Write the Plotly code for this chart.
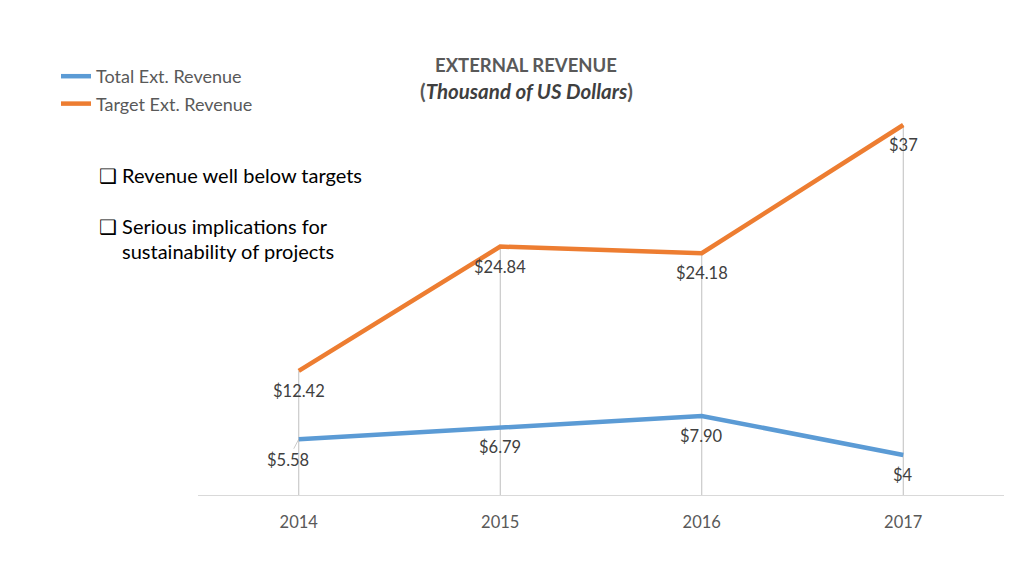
import plotly.graph_objects as go

# -------------------------------------------------------------------
# DATA
# -------------------------------------------------------------------
years = ["2014", "2015", "2016", "2017"]
total_rev = [5.58, 6.79, 7.90, 4]
target_rev = [12.42, 24.84, 24.18, 37]
total_labels = ["$5.58", "$6.79", "$7.90", "$4"]
target_labels = ["$12.42", "$24.84", "$24.18", "$37"]

BLUE = "#5B9BD5"
ORANGE = "#ED7D31"
GREY_TXT = "#595959"
LABEL_TXT = "#404040"
FONT = "Lato, Carlito, Calibri, sans-serif"

fig = go.Figure()

# vertical drop lines from the top point of each year down to the axis
drop_x, drop_y = [], []
for yr, a, b in zip(years, total_rev, target_rev):
    drop_x += [yr, yr, None]
    drop_y += [0, max(a, b), None]
fig.add_trace(go.Scatter(
    x=drop_x, y=drop_y, mode="lines",
    line=dict(color="#BFBFBF", width=1),
    hoverinfo="skip", showlegend=False))

fig.add_trace(go.Scatter(
    x=years, y=total_rev, mode="lines", name="Total Ext. Revenue",
    line=dict(color=BLUE, width=4.5), legendgroup="a"))

fig.add_trace(go.Scatter(
    x=years, y=target_rev, mode="lines", name="Target Ext. Revenue",
    line=dict(color=ORANGE, width=4.5), legendgroup="b"))

# data labels below each point
label_font = dict(family=FONT, size=16.5, color=LABEL_TXT)
for i, (v, lab) in enumerate(zip(target_rev, target_labels)):
    fig.add_annotation(x=i, y=v, text=lab, showarrow=False,
                       yshift=-20, font=label_font)
for i, (v, lab) in enumerate(zip(total_rev, total_labels)):
    if i == 0:
        # first label pulled to the left with a small leader line
        fig.add_annotation(x=i, y=v, text=lab, showarrow=True, arrowhead=0,
                           arrowwidth=0.6, arrowcolor="#A6A6A6",
                           ax=-11, ay=21, font=label_font)
    else:
        fig.add_annotation(x=i, y=v, text=lab, showarrow=False,
                           yshift=-20, font=label_font)

# chart title
fig.add_annotation(
    xref="paper", yref="paper", x=0.407, y=1.075, yanchor="middle",
    showarrow=False, text="<b>EXTERNAL REVENUE</b>",
    font=dict(family=FONT, size=18.5, color=GREY_TXT))
fig.add_annotation(
    xref="paper", yref="paper", x=0.407, y=1.01, yanchor="middle",
    showarrow=False,
    text="<b>(<i><span style='color:#3F3F3F'>Thousand of US Dollars</span></i>)</b>",
    font=dict(family=FONT, size=20.5, color=GREY_TXT))

# side notes
note_font = dict(family=FONT, size=20, color="#000000")
fig.add_annotation(
    xref="paper", yref="paper", x=-0.1253, y=0.8, xanchor="left", yanchor="middle",
    showarrow=False, text="\u2751 Revenue well below targets", font=note_font)
fig.add_annotation(
    xref="paper", yref="paper", x=-0.1253, y=0.6725, xanchor="left", yanchor="middle",
    showarrow=False, text="\u2751 Serious implications for", font=note_font)
fig.add_annotation(
    xref="paper", yref="paper", x=-0.0968, y=0.61, xanchor="left", yanchor="middle",
    showarrow=False, text="sustainability of projects", font=note_font)

fig.update_layout(
    width=1008, height=560,
    margin=dict(l=190, r=12, t=87, b=73, autoexpand=False),
    paper_bgcolor="white", plot_bgcolor="white",
    font=dict(family=FONT, color=GREY_TXT),
    legend=dict(
        xref="container", yref="container",
        x=48 / 1008, y=1 - 50 / 560, xanchor="left", yanchor="top",
        font=dict(family=FONT, size=18, color=GREY_TXT),
        traceorder="grouped", tracegroupgap=1,
        itemwidth=30, bgcolor="rgba(0,0,0,0)"),
    xaxis=dict(
        type="category", range=[-0.5, 3.5],
        showgrid=False, showline=True, linecolor="#D9D9D9", linewidth=1,
        ticks="", tickfont=dict(family=FONT, size=16.5, color=GREY_TXT),
        ticklabelstandoff=12),
    yaxis=dict(
        range=[0, 40], showgrid=False, showticklabels=False,
        zeroline=False, showline=False),
)

fig.write_html("out.html")
